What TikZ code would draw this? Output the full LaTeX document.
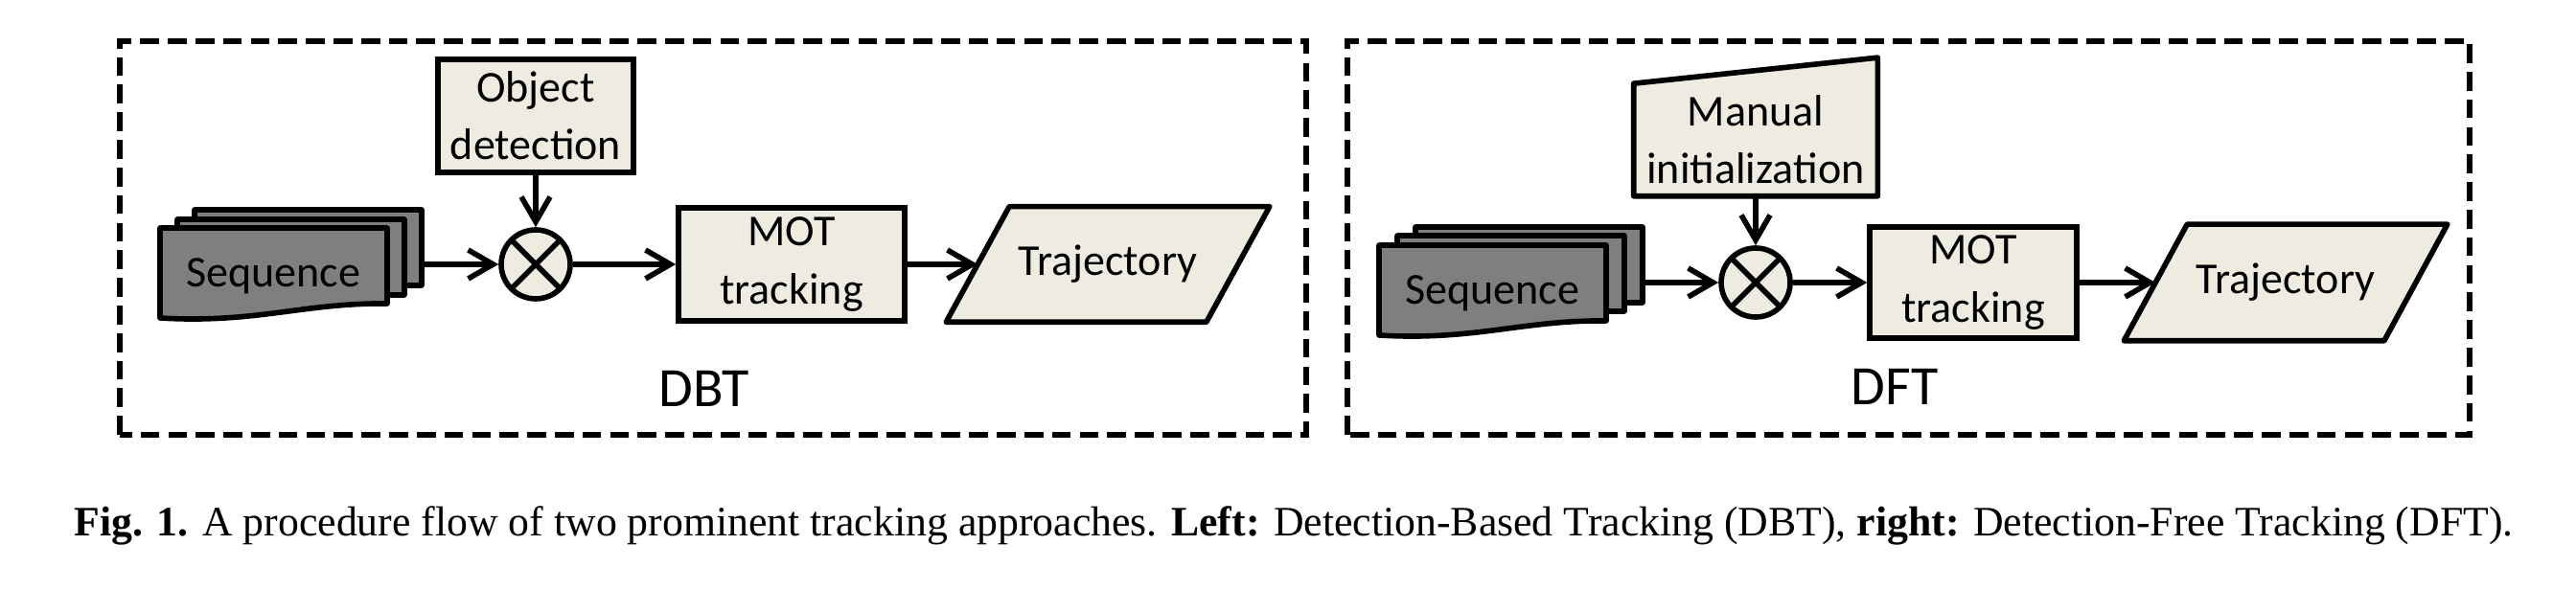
\documentclass[tikz,border=0pt]{standalone}
\usepackage{fontspec}
\setmainfont{Carlito}
\newfontfamily\capfont{Liberation Serif}
\usetikzlibrary{calc,arrows.meta,backgrounds}

\definecolor{boxfill}{HTML}{EEECE1}
\definecolor{seqfill}{HTML}{7F7F7F}

\tikzset{
    frame/.style={draw, line width=1.5pt, dash pattern=on 5.6pt off 2.6pt},
    block/.style={draw, fill=boxfill, line width=1.6pt, align=center, inner sep=0pt,
        font=\fontsize{13.1}{17.1}\selectfont},
    mult/.style={draw, fill=boxfill, line width=1.6pt, circle, minimum size=0.72cm, inner sep=0pt,
        path picture={\draw[line width=1.6pt]
            (path picture bounding box.north east) -- (path picture bounding box.south west)
            (path picture bounding box.north west) -- (path picture bounding box.south east);}},
    output/.style={block, draw=none, fill=none, minimum width=2.66cm, minimum height=1.15cm},
    outline/.style={draw, fill=boxfill, line width=1.6pt, line join=round},
    sheet/.style={draw, fill=seqfill, line width=1.6pt, line join=round},
    seqtext/.style={font=\fontsize{13.1}{17.1}\selectfont, inner sep=0pt},
    flow/.style={line width=1.6pt, -{Straight Barb[length=2.6mm,width=3mm]}},
    tag/.style={font=\fontsize{16.5}{20}\selectfont, inner sep=0pt}
}

\begin{document}
\begin{tikzpicture}
    \useasboundingbox (0,0) rectangle (26.88,6.16);

    % DBT
    \draw[frame] (1.25,1.62) rectangle (13.63,5.73);
    \coordinate (seqL) at (1.67,3.78);
    \foreach \dx/\dy in {0.36/0.19,0.18/0.09,0/0}{
        \coordinate (s) at ($(seqL)+(\dx,\dy)$);
        \draw[sheet] (s) -- ++(2.37,0) -- ++(0,-0.79)
            .. controls ($(s)+(1.5,-0.78)$) and ($(s)+(1.0,-1.0)$) .. ($(s)+(0,-0.94)$) -- cycle;
    }
    \node[seqtext, anchor=base] (seqLtxt) at ($(seqL)+(1.18,-0.62)$) {Sequence};
    \coordinate (seqLout) at ($(seqL)+(2.75,-0.38)$);
    \node[block, minimum width=2.04cm, minimum height=1.18cm] (det) at (5.59,4.95) {Object\\detection};
    \node[mult] (mulL) at (5.59,3.40) {};
    \node[block, minimum width=2.36cm, minimum height=1.18cm] (motL) at (8.26,3.40) {MOT\\tracking};
    \node[output] (trajL) at (11.56,3.40) {Trajectory};
    \begin{scope}[on background layer]
        \draw[outline] ($(trajL.south west)+(-0.33,0)$) -- ($(trajL.south east)+(-0.33,0)$)
            -- ($(trajL.north east)+(0.33,0)$) -- ($(trajL.north west)+(0.33,0)$) -- cycle;
    \end{scope}
    \node[tag, anchor=base] (dbt) at (7.35,1.91) {DBT};
    \draw[flow] (seqLout) -- (mulL);
    \draw[flow] (det) -- (mulL);
    \draw[flow] (mulL) -- (motL);
    \draw[flow] (motL) -- (trajL);

    % DFT
    \draw[frame] (14.06,1.62) rectangle (25.77,5.73);
    \coordinate (seqR) at (14.39,3.60);
    \foreach \dx/\dy in {0.38/0.19,0.19/0.10,0/0}{
        \coordinate (s) at ($(seqR)+(\dx,\dy)$);
        \draw[sheet] (s) -- ++(2.37,0) -- ++(0,-0.79)
            .. controls ($(s)+(1.5,-0.78)$) and ($(s)+(1.0,-1.0)$) .. ($(s)+(0,-0.94)$) -- cycle;
    }
    \node[seqtext, anchor=base] (seqRtxt) at ($(seqR)+(1.18,-0.62)$) {Sequence};
    \coordinate (seqRout) at ($(seqR)+(2.75,-0.39)$);
    \node[block, draw=none, fill=none, minimum width=2.49cm, minimum height=1.12cm] (man) at (18.32,4.70) {Manual\\initialization};
    \node[mult] (mulR) at (18.32,3.21) {};
    \node[block, minimum width=2.16cm, minimum height=1.16cm] (motR) at (20.59,3.21) {MOT\\tracking};
    \node[output, minimum height=1.16cm] (trajR) at (23.85,3.21) {Trajectory};
    \begin{scope}[on background layer]
        \draw[outline] (man.south west) -- (man.south east)
            -- ($(man.north east)+(0,0.27)$) -- (man.north west) -- cycle;
        \draw[outline] ($(trajR.south west)+(-0.33,0)$) -- ($(trajR.south east)+(-0.33,0)$)
            -- ($(trajR.north east)+(0.33,0)$) -- ($(trajR.north west)+(0.33,0)$) -- cycle;
    \end{scope}
    \node[tag, anchor=base] (dft) at (19.77,1.93) {DFT};
    \draw[flow] (seqRout) -- (mulR);
    \draw[flow] (man) -- (mulR);
    \draw[flow] (mulR) -- (motR);
    \draw[flow] (motR) -- (trajR);

    \node[anchor=base west, inner sep=0pt, font=\capfont\fontsize{12.45}{15}\selectfont] (caption) at (0.77,0.56)
        {\textbf{Fig. 1.} A procedure flow of two prominent tracking approaches. \textbf{Left:} Detection-Based Tracking (DBT), \textbf{right:} Detection-Free Tracking (DFT).};
\end{tikzpicture}
\end{document}
